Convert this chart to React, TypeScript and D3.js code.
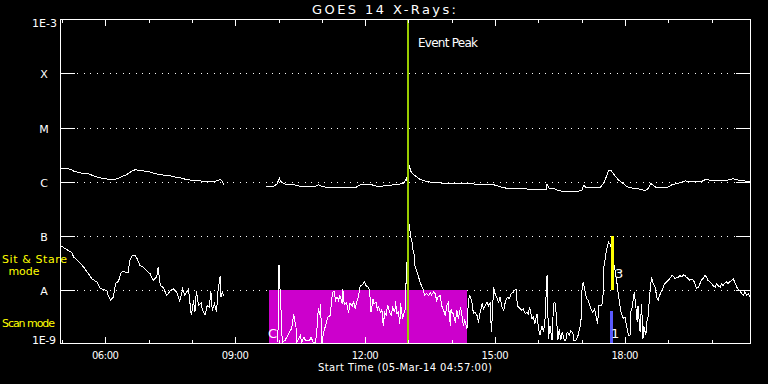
import React from "react";
import * as d3 from "d3";

// ---------- data (time in minutes after 05-Mar-14 04:57:00, flux as log10 W/m^2) ----------
const TITLE = "GOES 14 X-Rays:";
const X_AXIS_TITLE = "Start Time (05-Mar-14 04:57:00)";
const TIME_DOMAIN: [number, number] = [0, 957];
const LOG_DOMAIN: [number, number] = [-9, -3];

const classLabels = ["X", "M", "C", "B", "A"];
const classExponents = [-4, -5, -6, -7, -8];

const majorTickMinutes = [63, 243, 423, 603, 783];
const majorTickLabels = ["06:00", "09:00", "12:00", "15:00", "18:00"];
const minorTickMinutes = [3, 63, 123, 183, 243, 303, 363, 423, 483, 543, 603, 663, 723, 783, 843, 903];

const eventPeakMinute = 483;
const scanWindowMinutes = [289, 564];
const scanWindowFlux = [-9, -8];
const sitStareMinute = 766;
const sitStareFlux = [-8, -7];
const scanMarkMinute = 764;
const scanMarkFlux = [-9, -8.39];

// long channel (1-8 A)
const longSeg1: [number, number][] = [
  [1, -5.75], [8, -5.75], [16, -5.78], [19, -5.81], [26, -5.83], [31, -5.85], [40, -5.86], [49, -5.91],
  [58, -5.94], [68, -5.96], [77, -5.96], [84, -5.92], [91, -5.88], [95, -5.85], [100, -5.8], [105, -5.78],
  [111, -5.8], [121, -5.81], [130, -5.85], [139, -5.87], [146, -5.89], [155, -5.9], [160, -5.92], [167, -5.93],
  [174, -5.96], [183, -5.98], [192, -5.98], [199, -6.0], [208, -5.99], [213, -6.0], [220, -5.98], [222, -5.96],
  [225, -6.0], [227, -6.07],
];
const longSeg2: [number, number][] = [
  [285, -6.09], [296, -6.09], [301, -6.04], [304, -5.94], [306, -6.0], [310, -6.04], [315, -6.06], [324, -6.06],
  [333, -6.09], [342, -6.09], [354, -6.09], [358, -6.06], [363, -6.09], [375, -6.12], [388, -6.11], [402, -6.11],
  [409, -6.12], [416, -6.06], [432, -6.06], [439, -6.09], [453, -6.08], [462, -6.06], [476, -6.04], [480, -5.94],
  [482, -6.04], [484, -5.7], [486, -5.81], [490, -5.87], [495, -5.92], [499, -5.96], [506, -5.99], [513, -6.01],
  [522, -6.02], [536, -6.04], [550, -6.04], [568, -6.04], [587, -6.06], [601, -6.06], [608, -6.09], [617, -6.12],
  [624, -6.13], [638, -6.13], [658, -6.15], [674, -6.15], [675, -6.04], [678, -6.13], [684, -6.13], [691, -6.17],
  [702, -6.19], [709, -6.19], [723, -6.17], [726, -6.07], [730, -6.12], [739, -6.12], [748, -6.12], [753, -6.04],
  [757, -5.92], [760, -5.8], [764, -5.8], [769, -5.89], [774, -5.97], [781, -6.04], [785, -6.09], [792, -6.12],
  [799, -6.13], [806, -6.15], [811, -6.17], [815, -6.13], [819, -6.04], [822, -6.07], [827, -6.12], [841, -6.12],
  [848, -6.06], [857, -6.03], [866, -5.99], [878, -6.0], [889, -6.0], [895, -5.96], [905, -5.99], [915, -5.99],
  [924, -5.98], [933, -5.95], [942, -5.98], [956, -6.0],
];

// short channel (0.5-4 A)
const shortSeg1: [number, number][] = [
  [1, -7.19], [7, -7.24], [12, -7.28], [16, -7.31], [19, -7.4], [26, -7.48], [33, -7.59], [39, -7.7],
  [44, -7.8], [51, -7.86], [56, -7.98], [60, -8.0], [65, -8.02], [67, -8.12], [70, -8.2], [74, -8.14],
  [77, -7.89], [81, -7.85], [85, -7.68], [88, -7.67], [92, -7.68], [95, -7.69], [96, -7.49], [100, -7.37],
  [104, -7.36], [107, -7.43], [111, -7.56], [116, -7.59], [120, -7.65], [125, -7.71], [129, -7.83], [134, -7.77],
  [136, -7.59], [139, -7.93], [143, -7.96], [148, -8.11], [153, -8.02], [157, -7.99], [162, -8.05], [166, -8.22],
  [170, -7.99], [173, -8.11], [178, -7.99], [182, -8.48], [185, -8.2], [187, -8.42], [189, -8.02], [192, -8.3],
  [196, -8.24], [197, -8.36], [201, -8.47], [204, -8.3], [207, -8.33], [209, -8.02], [211, -8.39], [214, -8.26],
  [217, -8.41], [219, -8.02], [222, -7.75], [223, -8.14], [225, -8.05], [227, -8.11],
];
const shortSeg2: [number, number][] = [
  [302, -8.98], [303, -7.56], [304, -7.56], [305, -8.02], [307, -8.57], [308, -8.98], [312, -8.94], [321, -8.72],
  [324, -8.46], [325, -8.57], [327, -8.67], [328, -8.99], [333, -8.85], [335, -8.99], [338, -8.88], [340, -8.94],
  [346, -8.94], [348, -8.88], [351, -8.99], [354, -8.99], [356, -8.76], [358, -8.35], [360, -8.48], [361, -8.26],
  [363, -8.99], [365, -8.82], [368, -8.67], [371, -8.51], [375, -8.48], [376, -8.24], [378, -8.05], [380, -8.04],
  [382, -8.2], [384, -8.14], [386, -8.2], [388, -8.11], [391, -8.26], [392, -8.0], [394, -8.28], [397, -8.24],
  [400, -8.43], [402, -8.25], [405, -8.31], [407, -8.22], [409, -8.36], [411, -8.25], [414, -8.11], [416, -7.93],
  [418, -7.93], [422, -7.86], [424, -7.93], [428, -7.96], [430, -8.17], [431, -8.42], [434, -8.17], [435, -8.26],
  [438, -8.24], [440, -8.39], [441, -8.3], [444, -8.42], [446, -8.36], [448, -8.67], [450, -8.42], [452, -8.48],
  [454, -8.28], [457, -8.42], [459, -8.48], [461, -8.33], [464, -8.42], [465, -8.22], [467, -8.45], [469, -8.42],
  [471, -8.64], [472, -8.26], [475, -8.54], [477, -8.42], [479, -8.36], [480, -7.52], [481, -7.49], [484, -6.78],
  [486, -7.03], [488, -7.12], [489, -7.25], [491, -7.37], [492, -7.56], [495, -7.68], [497, -7.77], [499, -7.86],
  [501, -7.93], [504, -8.02], [505, -8.11], [508, -8.08], [511, -8.11], [513, -8.06], [515, -8.1], [518, -8.04],
  [520, -8.08], [522, -8.2], [524, -8.14], [527, -8.11], [529, -8.3], [531, -8.36], [534, -8.48], [536, -8.3],
  [538, -8.24], [541, -8.67], [542, -8.36], [543, -8.42], [545, -8.45], [548, -8.61], [550, -8.39], [552, -8.54],
  [555, -8.33], [557, -8.48], [559, -8.67], [561, -8.57], [564, -8.73], [566, -8.2], [568, -8.11], [571, -8.24],
  [573, -8.45], [575, -8.42], [578, -8.48], [580, -8.61], [582, -8.45], [585, -8.26], [587, -8.36], [589, -8.3],
  [592, -8.24], [594, -8.3], [596, -8.25], [598, -8.79], [601, -7.96], [603, -8.08], [605, -8.14], [608, -8.24],
  [610, -8.14], [612, -8.3], [615, -8.39], [617, -8.24], [620, -8.14], [623, -8.17], [625, -8.08], [628, -8.05],
  [632, -7.99], [634, -8.3], [638, -8.36], [640, -8.39], [642, -8.36], [645, -8.45], [647, -8.42], [649, -8.45],
  [651, -8.33], [654, -8.54], [656, -8.51], [658, -8.64], [661, -8.45], [663, -8.7], [665, -8.85], [668, -8.67],
  [670, -8.79], [672, -8.61], [675, -7.74], [677, -8.91], [679, -8.67], [682, -8.94], [684, -8.26], [686, -8.24],
  [688, -8.48], [690, -8.94], [692, -8.73], [694, -8.94], [696, -8.79], [699, -8.94], [701, -8.94], [703, -8.79],
  [706, -8.85], [708, -8.76], [711, -8.82], [712, -8.94], [715, -8.94], [718, -8.85], [720, -8.73], [722, -8.61],
  [723, -8.05], [725, -7.86], [728, -8.05], [730, -8.17], [732, -8.2], [735, -8.33], [738, -8.42], [741, -8.36],
  [745, -8.64], [747, -8.3], [751, -8.3], [753, -8.05], [754, -7.56], [757, -7.31], [760, -7.12], [762, -7.15],
  [765, -7.25], [767, -7.49], [769, -7.62], [772, -7.89], [774, -8.11], [776, -8.3], [778, -8.45], [781, -8.54],
  [783, -8.51], [785, -8.67], [788, -8.85], [790, -8.85], [791, -8.42], [793, -8.33], [796, -8.05], [798, -8.3],
  [800, -8.61], [801, -8.3], [804, -8.79], [806, -8.26], [808, -8.91], [809, -8.67], [812, -8.85], [813, -8.61],
  [815, -8.51], [818, -7.99], [820, -7.77], [822, -7.89], [825, -7.96], [827, -8.14], [829, -8.2], [831, -8.11],
  [834, -8.02], [836, -7.96], [838, -7.89], [841, -7.86], [843, -7.83], [845, -7.8], [848, -7.74], [850, -7.75],
  [852, -7.8], [855, -7.78], [857, -7.77], [859, -7.74], [862, -7.77], [864, -7.73], [866, -7.74], [868, -7.77],
  [871, -7.8], [873, -7.83], [875, -7.81], [878, -7.83], [880, -7.89], [882, -7.98], [885, -7.96], [887, -7.89],
  [889, -7.83], [891, -7.8], [894, -7.74], [896, -7.77], [898, -7.83], [901, -7.86], [903, -7.89], [905, -7.93],
  [908, -7.96], [910, -7.89], [912, -7.93], [915, -7.96], [917, -7.89], [919, -7.93], [921, -7.89], [924, -7.86],
  [926, -7.89], [928, -7.86], [931, -7.83], [933, -7.8], [935, -7.86], [938, -7.96], [940, -7.99], [942, -8.02],
  [945, -8.08], [947, -8.11], [949, -8.05], [952, -8.11], [954, -8.08], [956, -8.14],
];

// ---------- chart ----------
const W = 768;
const H = 384;
const LEFT = 60;
const RIGHT = 751;
const TOP = 19;
const BOTTOM = 343;
const FONT = "DejaVu Sans, Liberation Sans, sans-serif";

export default function App() {
  const x = d3.scaleLinear().domain(TIME_DOMAIN).range([LEFT, RIGHT - 0.5]);
  const y = d3.scaleLinear().domain(LOG_DOMAIN).range([BOTTOM + 0.5, TOP + 0.5]);
  const line = d3
    .line<[number, number]>()
    .x((d) => x(d[0]))
    .y((d) => y(d[1]));

  const pk = Math.round(x(eventPeakMinute));

  return (
    <svg
      width={W}
      height={H}
      style={{ position: "absolute", left: 0, top: 0, background: "#000", display: "block" }}
    >
      <rect x={0} y={0} width={W} height={H} fill="#000" />
      <defs>
        <clipPath id="plot">
          <rect x={LEFT} y={TOP} width={RIGHT - LEFT + 1} height={BOTTOM - TOP + 1} />
        </clipPath>
      </defs>

      {/* title */}
      <text x={312} y={14} fill="#fff" fontFamily={FONT} fontSize={13} textLength={144} lengthAdjust="spacing">
        {TITLE}
      </text>

      {/* grid lines + y ticks */}
      {classExponents.map((e, i) => {
        const yy = Math.round(y(e)) + 0.5;
        return (
          <g key={"g" + i} shapeRendering="crispEdges">
            <line x1={LEFT} x2={LEFT + 15} y1={yy} y2={yy} stroke="#fff" strokeWidth={1} />
            <line x1={RIGHT - 15} x2={RIGHT} y1={yy} y2={yy} stroke="#fff" strokeWidth={1} />
            <line x1={77} x2={735} y1={yy} y2={yy} stroke="#fff" strokeWidth={1} strokeDasharray="1 5.5" />
            <text x={44} y={yy + 4} fill="#fff" fontFamily={FONT} fontSize={11} textAnchor="middle">
              {classLabels[i]}
            </text>
          </g>
        );
      })}
      <text x={57} y={27} fill="#fff" fontFamily={FONT} fontSize={11} textAnchor="end" textLength={25} lengthAdjust="spacing">
        1E-3
      </text>
      <text x={56} y={344} fill="#fff" fontFamily={FONT} fontSize={11} textAnchor="end" textLength={24} lengthAdjust="spacing">
        1E-9
      </text>

      {/* yellow mode labels */}
      <text x={2} y={263} fill="#ffff00" fontFamily={FONT} fontSize={11} textLength={65} lengthAdjust="spacing">
        Sit &amp; Stare
      </text>
      <text x={24} y={275} fill="#ffff00" fontFamily={FONT} fontSize={11} textAnchor="middle">
        mode
      </text>
      <text x={2} y={327} fill="#ffff00" fontFamily={FONT} fontSize={11} textLength={53} lengthAdjust="spacing">
        Scan mode
      </text>

      {/* scan window */}
      <rect
        x={x(scanWindowMinutes[0])}
        y={y(scanWindowFlux[1])}
        width={x(scanWindowMinutes[1]) - x(scanWindowMinutes[0])}
        height={y(scanWindowFlux[0]) - y(scanWindowFlux[1])}
        fill="#cc00cc"
        shapeRendering="crispEdges"
      />

      {/* curves */}
      <g clipPath="url(#plot)" fill="none" stroke="#fff" strokeWidth={1} shapeRendering="crispEdges">
        <path d={line(longSeg1) || ""} />
        <path d={line(longSeg2) || ""} />
        <path d={line(shortSeg1) || ""} />
        <path d={line(shortSeg2) || ""} />
      </g>

      {/* mode markers */}
      <line
        x1={x(sitStareMinute)}
        x2={x(sitStareMinute)}
        y1={y(sitStareFlux[0])}
        y2={y(sitStareFlux[1])}
        stroke="#ffff00"
        strokeWidth={2.5}
        shapeRendering="crispEdges"
      />
      <line
        x1={x(scanMarkMinute)}
        x2={x(scanMarkMinute)}
        y1={y(scanMarkFlux[0])}
        y2={y(scanMarkFlux[1])}
        stroke="#5a5aff"
        strokeWidth={3}
        shapeRendering="crispEdges"
      />
      <text x={615} y={278} fill="#fff" fontFamily={FONT} fontSize={13}>3</text>
      <text x={611} y={338} fill="#fff" fontFamily={FONT} fontSize={13}>1</text>
      <text x={268} y={338} fill="#fff" fontFamily={FONT} fontSize={13}>C</text>

      {/* event peak */}
      <line x1={pk} x2={pk} y1={TOP} y2={BOTTOM} stroke="#99cc00" strokeWidth={2} shapeRendering="crispEdges" />
      <text x={418} y={47} fill="#fff" fontFamily={FONT} fontSize={12} textLength={60} lengthAdjust="spacing">
        Event Peak
      </text>

      {/* frame */}
      <rect
        x={LEFT + 0.5}
        y={TOP + 0.5}
        width={RIGHT - LEFT - 1}
        height={BOTTOM - TOP}
        fill="none"
        stroke="#fff"
        strokeWidth={1}
        shapeRendering="crispEdges"
      />

      {/* time ticks */}
      <g stroke="#fff" strokeWidth={1} shapeRendering="crispEdges">
        {minorTickMinutes.map((m) => {
          const xx = Math.round(x(m)) + 0.5;
          const major = majorTickMinutes.includes(m);
          return (
            <g key={"t" + m}>
              <line x1={xx} x2={xx} y1={TOP} y2={TOP + (major ? 7 : 4)} />
              <line x1={xx} x2={xx} y1={BOTTOM + 1} y2={BOTTOM + 1 - (major ? 7 : 4)} />
            </g>
          );
        })}
      </g>
      {majorTickMinutes.map((m, i) => (
        <text
          key={"l" + m}
          x={x(m)}
          y={359}
          fill="#fff"
          fontFamily={FONT}
          fontSize={10}
          textAnchor="middle"
          textLength={27}
          lengthAdjust="spacing"
        >
          {majorTickLabels[i]}
        </text>
      ))}
      <text x={318} y={371} fill="#fff" fontFamily={FONT} fontSize={10} textLength={174} lengthAdjust="spacing">
        {X_AXIS_TITLE}
      </text>
    </svg>
  );
}
